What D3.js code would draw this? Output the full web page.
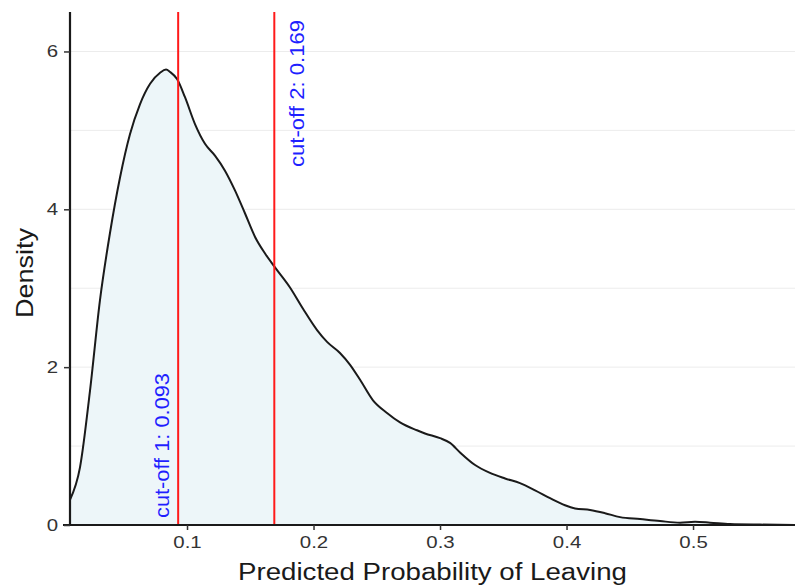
<!DOCTYPE html>
<html>
<head>
<meta charset="utf-8">
<script src="https://cdn.jsdelivr.net/npm/d3@7"></script>
<style>
  body { margin: 0; background: #fff; }
  text { font-family: "Liberation Sans", Arial, sans-serif; }
</style>
</head>
<body>
<div class="box"></div>
<script>
// density estimate
const probX = [0.0075, 0.0154, 0.0233, 0.0312, 0.0391, 0.0470, 0.0549, 0.0628, 0.0708, 0.0787,
               0.0834, 0.0866, 0.0921, 0.0984, 0.1063, 0.1142, 0.1221, 0.1300, 0.1379, 0.1458,
               0.1538, 0.1617, 0.1688, 0.1814, 0.1917, 0.2028, 0.2107, 0.2209, 0.2289, 0.2368,
               0.2470, 0.2581, 0.2684, 0.2818, 0.2881, 0.3000, 0.3079, 0.3158, 0.3277, 0.3395,
               0.3514, 0.3632, 0.3751, 0.3870, 0.3988, 0.4067, 0.4186, 0.4304, 0.4423, 0.4581,
               0.4739, 0.4897, 0.5016, 0.5134, 0.5292, 0.5530, 0.5806];
const density = [0.32, 0.73, 1.70, 2.85, 3.70, 4.40, 4.95, 5.33, 5.59, 5.73,
                 5.77, 5.74, 5.65, 5.42, 5.08, 4.83, 4.68, 4.49, 4.24, 3.95,
                 3.65, 3.44, 3.28, 3.01, 2.74, 2.47, 2.32, 2.18, 2.03, 1.84,
                 1.58, 1.42, 1.30, 1.20, 1.16, 1.10, 1.04, 0.92, 0.76, 0.66,
                 0.59, 0.53, 0.44, 0.34, 0.25, 0.21, 0.19, 0.15, 0.10, 0.075,
                 0.05, 0.03, 0.04, 0.03, 0.012, 0.005, 0.001];

const cutoffs = [0.093, 0.169];
const cutoffLabels = ['cut-off 1: 0.093', 'cut-off 2: 0.169'];
const xTicks = [0.1, 0.2, 0.3, 0.4, 0.5];
const yTicks = [0, 2, 4, 6];
const gridY = [1, 2, 3, 4, 5, 6];

const svg = d3.select('.box')
              .append('svg')
              .attr('width', 795)
              .attr('height', 585);

const margin = {top: 12, right: 0, bottom: 60, left: 70};
const graphWidth = 795 - margin.left - margin.right;
const graphHeight = 585 - margin.top - margin.bottom;

const graph = svg.append('g')
                 .attr('transform', `translate(${margin.left}, ${margin.top})`);

const x = d3.scaleLinear()
            .domain([0.0075, 0.5806])
            .range([0, graphWidth]);

const y = d3.scaleLinear()
            .domain([0, 6.5])
            .range([graphHeight, 0]);

// the reference text looks a bit stretched, so widen horizontal labels
function stretch(sel, k) {
  sel.each(function() {
    const w = this.getComputedTextLength();
    d3.select(this).attr('textLength', w * k).attr('lengthAdjust', 'spacingAndGlyphs');
  });
}

// grid
graph.selectAll('.grid')
     .data(gridY)
     .enter()
     .append('line')
     .attr('x1', 0)
     .attr('x2', graphWidth)
     .attr('y1', d => y(d))
     .attr('y2', d => y(d))
     .attr('stroke', '#ececec')
     .attr('stroke-width', 1);

const pts = probX.map((p, i) => ({p: p, d: density[i]}));

const area = d3.area()
               .x(d => x(d.p))
               .y0(y(0))
               .y1(d => y(d.d))
               .curve(d3.curveMonotoneX);

const line = d3.line()
               .x(d => x(d.p))
               .y(d => y(d.d))
               .curve(d3.curveMonotoneX);

graph.append('path')
     .attr('d', area(pts))
     .attr('fill', '#edf6f9');

graph.append('path')
     .attr('d', line(pts))
     .attr('fill', 'none')
     .attr('stroke', '#1a1a1a')
     .attr('stroke-width', 2);

// cut-off lines
graph.selectAll('.cut')
     .data(cutoffs)
     .enter()
     .append('line')
     .attr('x1', d => x(d))
     .attr('x2', d => x(d))
     .attr('y1', 0)
     .attr('y2', graphHeight)
     .attr('stroke', '#ff1a1a')
     .attr('stroke-width', 2);

// cut-off labels
graph.append('text')
     .attr('transform', `translate(${x(cutoffs[0]) - 9}, ${graphHeight - 7}) rotate(-90)`)
     .attr('text-anchor', 'start')
     .attr('fill', '#1f1fff')
     .attr('textLength', 145)
     .attr('lengthAdjust', 'spacingAndGlyphs')
     .style('font-size', '21px')
     .text(cutoffLabels[0]);

graph.append('text')
     .attr('transform', `translate(${x(cutoffs[1]) + 30}, 8) rotate(-90)`)
     .attr('text-anchor', 'end')
     .attr('fill', '#1f1fff')
     .attr('textLength', 147)
     .attr('lengthAdjust', 'spacingAndGlyphs')
     .style('font-size', '21px')
     .text(cutoffLabels[1]);

// axes
const axeX = d3.axisBottom(x).tickValues(xTicks).tickSize(5).tickPadding(6).tickFormat(d3.format('.1f'));
const axeY = d3.axisLeft(y).tickValues(yTicks).tickSize(6).tickPadding(6).tickFormat(d3.format('d'));

const groupeX = graph.append('g')
                     .attr('transform', `translate(0, ${graphHeight})`)
                     .call(axeX);
groupeX.select('.domain').attr('d', `M-7,0H${graphWidth}`);

const groupeY = graph.append('g').call(axeY);
groupeY.select('.domain').attr('d', `M0,0V${graphHeight}`);

[groupeX, groupeY].forEach(g => {
  g.select('.domain').attr('stroke', '#1a1a1a').attr('stroke-width', 2.2);
  g.selectAll('.tick line').attr('stroke', '#333').attr('stroke-width', 1.5);
  g.selectAll('text')
   .attr('fill', '#333')
   .style('font-size', '17px')
   .style('font-family', '"Liberation Sans", Arial, sans-serif');
});
stretch(groupeX.selectAll('text'), 1.2);
stretch(groupeY.selectAll('text'), 1.2);

// axis titles
svg.append('text')
   .attr('x', margin.left + graphWidth / 2)
   .attr('y', 580)
   .attr('text-anchor', 'middle')
   .attr('fill', '#1a1a1a')
   .attr('textLength', 389)
   .attr('lengthAdjust', 'spacingAndGlyphs')
   .style('font-size', '23px')
   .text('Predicted Probability of Leaving');

svg.append('text')
   .attr('transform', `translate(33, 273) rotate(-90)`)
   .attr('text-anchor', 'middle')
   .attr('fill', '#1a1a1a')
   .attr('textLength', 90)
   .attr('lengthAdjust', 'spacingAndGlyphs')
   .style('font-size', '24px')
   .text('Density');
</script>
</body>
</html>
